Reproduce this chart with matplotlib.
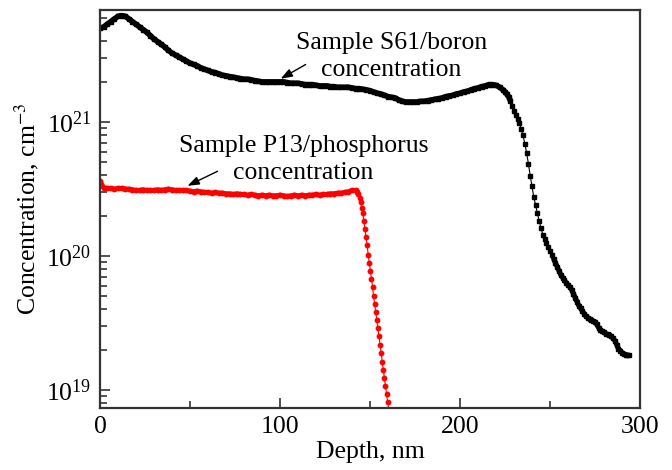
import numpy as np
import matplotlib
matplotlib.use('Agg')
import matplotlib.pyplot as plt
from matplotlib.ticker import LogLocator, MultipleLocator, NullFormatter

plt.rcParams['font.family'] = ['Liberation Serif', 'DejaVu Serif']
plt.rcParams['mathtext.fontset'] = 'stix'

# boron profile, sample S61 (log10 of concentration, cm^-3)
depth_b = list(range(0, 226, 2)) + list(range(225, 295))
logc_b = [21.70, 21.71, 21.73, 21.75, 21.77, 21.79, 21.795, 21.79, 21.77, 21.75,
          21.73, 21.71, 21.69, 21.67, 21.645, 21.62, 21.60, 21.58, 21.56, 21.535,
          21.515, 21.50, 21.485, 21.47, 21.455, 21.44, 21.43, 21.42, 21.405, 21.395,
          21.385, 21.375, 21.37, 21.36, 21.35, 21.345, 21.34, 21.335, 21.33, 21.325,
          21.32, 21.32, 21.315, 21.31, 21.305, 21.30, 21.30, 21.30, 21.30, 21.30,
          21.30, 21.30, 21.295, 21.29, 21.29, 21.29, 21.285, 21.28, 21.28, 21.28,
          21.275, 21.27, 21.27, 21.27, 21.265, 21.265, 21.26, 21.26, 21.26, 21.26,
          21.255, 21.25, 21.25, 21.245, 21.24, 21.235, 21.225, 21.215, 21.21, 21.20,
          21.19, 21.185, 21.18, 21.165, 21.155, 21.15, 21.15, 21.15, 21.15, 21.155,
          21.155, 21.16, 21.165, 21.17, 21.175, 21.18, 21.19, 21.195, 21.20, 21.21,
          21.215, 21.225, 21.23, 21.24, 21.25, 21.255, 21.265, 21.27, 21.28, 21.28,
          21.275, 21.26, 21.24,
          # 225 .. 294 every 1 nm
          21.225, 21.21, 21.19, 21.16, 21.12, 21.08, 21.05, 21.02, 20.99, 20.95,
          20.90, 20.84, 20.77, 20.69, 20.60, 20.52, 20.44, 20.38, 20.32, 20.26,
          20.21, 20.16, 20.13, 20.10, 20.07, 20.04, 20.01, 19.98, 19.95, 19.92,
          19.89, 19.86, 19.84, 19.82, 19.80, 19.785, 19.77, 19.75, 19.72, 19.69,
          19.66, 19.63, 19.61, 19.59, 19.57, 19.55, 19.54, 19.53, 19.52, 19.515,
          19.51, 19.49, 19.465, 19.45, 19.44, 19.43, 19.42, 19.415, 19.41, 19.40,
          19.385, 19.37, 19.34, 19.31, 19.295, 19.28, 19.27, 19.265, 19.26, 19.26]

# phosphorus profile, sample P13
depth_p = list(range(0, 143, 2)) + [143.0, 143.6, 144.2, 144.8, 145.4, 146.0, 146.6,
          147.2, 147.8, 148.4, 149.0, 149.6, 150.2, 150.8, 151.4, 152.0, 152.6,
          153.2, 153.8, 154.4, 155.0, 155.6, 156.2, 156.8, 157.4, 158.0, 158.6,
          159.2, 159.8, 160.4]
logc_p = [20.56, 20.51, 20.505, 20.505, 20.50, 20.505, 20.505, 20.50, 20.50, 20.495,
          20.49, 20.49, 20.495, 20.49, 20.49, 20.49, 20.495, 20.49, 20.495, 20.50,
          20.495, 20.49, 20.49, 20.49, 20.49, 20.485, 20.48, 20.485, 20.48, 20.475,
          20.475, 20.47, 20.475, 20.47, 20.47, 20.465, 20.465, 20.46, 20.465, 20.46,
          20.46, 20.455, 20.46, 20.455, 20.45, 20.455, 20.45, 20.455, 20.45, 20.45,
          20.455, 20.45, 20.445, 20.45, 20.455, 20.45, 20.455, 20.45, 20.455, 20.455,
          20.46, 20.455, 20.46, 20.46, 20.465, 20.465, 20.47, 20.47, 20.475, 20.48,
          20.49, 20.49,
          20.48, 20.46, 20.43, 20.40, 20.36, 20.32, 20.26, 20.20, 20.14, 20.08,
          20.01, 19.95, 19.89, 19.83, 19.77, 19.70, 19.64, 19.58, 19.52, 19.46,
          19.40, 19.34, 19.28, 19.21, 19.15, 19.09, 19.03, 18.97, 18.91, 18.85]

label_b = 'Sample S61/boron\nconcentration'
label_p = 'Sample P13/phosphorus\nconcentration'

xb = np.array(depth_b, dtype=float)
yb = 10 ** np.array(logc_b)
xp = np.array(depth_p, dtype=float)
yp = 10 ** np.array(logc_p)

fig = plt.figure(figsize=(6.72, 4.70), dpi=100)
ax = fig.add_axes([0.1488, 0.1319, 0.8036, 0.8468])

# flat parts look like a thick trace because the points overlap
ax.plot(np.where(xb <= 228, xb, np.nan), np.where(xb <= 228, yb, np.nan), color='black', lw=4.0, solid_capstyle='round')
ax.plot(np.where(xb >= 252, xb, np.nan), np.where(xb >= 252, yb, np.nan), color='black', lw=3.6, solid_capstyle='round')
ax.plot(xb, yb, color='black', lw=0.8, marker='s', ms=2.6, mec='black', mfc='black')

flat_p = xp <= 143.6
ax.plot(xp[flat_p], yp[flat_p], color='red', lw=3.6, solid_capstyle='round')
ax.plot(xp, yp, color='red', lw=0.8, marker='o', ms=3.2, mec='red', mfc='red')

ax.set_yscale('log')
ax.set_xlim(0, 300)
ax.set_ylim(7.35e18, 6.86e21)

ax.xaxis.set_major_locator(MultipleLocator(100))
ax.xaxis.set_minor_locator(MultipleLocator(50))
ax.yaxis.set_major_locator(LogLocator(base=10, numticks=10))
ax.yaxis.set_minor_locator(LogLocator(base=10, subs=np.arange(2, 10), numticks=10))
ax.yaxis.set_minor_formatter(NullFormatter())

ax.tick_params(which='both', direction='in', top=False, right=False,
               width=1.2, color='#333333', labelsize=18.5)
ax.tick_params(which='major', length=7.5, pad=6)
ax.tick_params(which='minor', length=5)
for s in ax.spines.values():
    s.set_linewidth(1.6)
    s.set_color('#333333')

ax.set_xlabel('Depth, nm', fontsize=18.5, labelpad=2)
ax.set_ylabel(r'Concentration, cm$^{-3}$', fontsize=18.5, labelpad=4)

ax.text(162, 10 ** 21.49, label_b, ha='center', va='center', fontsize=18.5, linespacing=1.3)
ax.annotate('', xy=(99, 10 ** 21.313), xytext=(115.6, 10 ** 21.44),
            arrowprops=dict(arrowstyle='-|>,head_length=0.7,head_width=0.25', color='black', lw=1.0))

ax.text(113, 10 ** 20.72, label_p, ha='center', va='center', fontsize=18.5, linespacing=1.3)
ax.annotate('', xy=(47.2, 10 ** 20.515), xytext=(66.7, 10 ** 20.642),
            arrowprops=dict(arrowstyle='-|>,head_length=0.7,head_width=0.25', color='black', lw=1.0))

fig.savefig('out.png', dpi=100)
